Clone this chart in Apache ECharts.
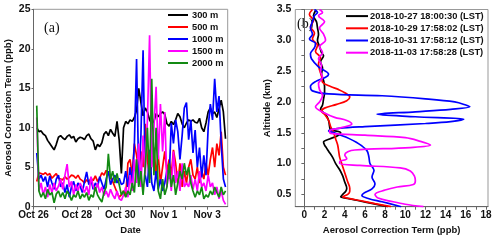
<!DOCTYPE html>
<html><head><meta charset="utf-8">
<script src="https://cdn.jsdelivr.net/npm/echarts@6/dist/echarts.min.js"></script>
<style>html,body{margin:0;padding:0;background:#fff}#c{width:500px;height:241px}</style>
</head><body><div id="c"></div>
<script>
// ---------- Panel (a): time series ----------
const dateTickDays = [0, 2, 4, 6, 8];
const dateTickLabels = ['Oct 26', 'Oct 28', 'Oct 30', 'Nov 1', 'Nov 3'];
const dayTicks = [0, 1, 2, 3, 4, 5, 6, 7, 8];
const concTicks = [0, 5, 10, 15, 20, 25];
const firstSampleDay = 0.15;   // days after Oct 26 00:00
const sampleStepDays = 0.1;
const seriesNamesA = ['300 m', '500 m', '1000 m', '1500 m', '2000 m'];

const conc300 = [10.0,9.5,9.6,9.2,9.0,8.4,8.0,7.6,7.2,7.9, 8.8,9.0,8.7,8.5,8.9,9.1,8.7,8.9,8.2,8.6, 8.8,8.7,8.5,9.0,9.2,8.6,8.3,7.2,7.9,7.6, 8.1,9.2,9.5,9.0,9.8,9.3,8.9,10.8,8.4,4.2, 10.0,10.8,10.5,11.0,10.8,11.3,12.2,15.0,13.2,11.5, 12.5,12.0,11.0,10.5,10.8,11.8,11.4,11.8,12.0,11.7, 10.5,10.2,10.8,10.4,11.0,11.8,11.4,10.5,10.0,10.6, 11.0,10.8,11.0,10.7,10.6,11.2,10.0,9.5,10.6,12.0, 12.5,11.8,12.0,11.3,12.4,13.5,12.0,8.6];
const conc500 = [3.2,4.3,4.2,4.1,4.3,4.0,4.2,3.6,3.9,4.2, 3.6,3.5,3.4,3.8,3.5,3.7,4.0,3.9,3.6,4.0, 3.5,3.3,3.0,3.4,3.1,3.6,3.3,3.9,3.2,3.6, 4.3,4.0,4.6,4.2,3.8,3.2,2.5,1.8,1.2,1.5, 2.0,1.3,5.5,6.0,4.0,8.0,6.5,4.5,7.0,5.0, 10.5,6.0,3.5,5.5,7.5,4.0,6.5,3.0,5.0,7.0, 4.5,6.0,4.0,7.2,5.5,3.0,5.5,2.5,4.5,3.0, 5.0,6.0,4.0,3.5,5.0,3.0,4.5,3.5,5.5,4.0, 6.0,7.5,5.0,8.0,6.5,9.5,5.0,4.0];
const conc1000 = [6.8,3.5,4.0,3.2,3.8,2.5,3.9,3.0,2.2,3.5, 4.0,2.5,3.0,1.8,2.8,1.2,2.5,3.2,2.0,3.0, 2.6,1.8,3.2,4.4,2.8,3.5,2.2,3.0,2.5,3.8, 3.0,2.2,3.5,4.5,2.8,3.5,4.0,3.0,3.6,2.8, 3.0,4.5,2.5,5.0,3.0,8.0,18.7,3.5,9.0,19.8, 4.0,2.5,7.2,3.0,2.0,4.5,2.2,3.5,2.0,3.0, 4.6,3.5,10.6,8.0,11.0,9.5,6.0,9.0,12.5,13.2, 8.5,11.0,6.8,9.7,5.0,7.5,3.7,6.5,4.0,10.0, 13.0,11.0,16.2,12.0,14.0,8.0,3.5,2.5];
const conc1500 = [11.3,2.0,3.0,1.5,2.5,1.2,2.8,1.8,3.0,2.0, 2.6,3.5,2.2,4.0,5.4,2.5,3.2,1.5,2.8,2.0, 3.0,2.4,1.8,2.6,1.5,3.8,2.6,2.0,3.0,1.8, 2.5,1.4,2.0,1.2,2.2,1.5,1.0,2.0,1.0,0.8, 1.5,2.5,1.2,4.0,2.0,6.0,3.0,8.0,2.5,9.0, 4.0,11.0,21.7,5.0,10.0,15.2,6.0,13.0,7.0,12.0, 2.5,5.0,2.0,7.0,3.0,4.5,2.0,5.5,2.5,3.0, 2.5,4.0,2.2,3.5,2.0,4.5,2.5,3.0,2.0,4.0, 2.5,3.0,1.5,2.5,1.0,2.0,0.8,0.3];
const conc2000 = [12.8,2.0,1.2,1.8,1.0,2.2,1.5,1.8,0.5,1.6, 2.0,1.2,1.8,1.0,2.0,1.5,0.8,1.5,1.2,2.0, 1.0,1.6,1.2,1.8,0.8,1.5,1.2,2.5,1.5,1.0, 0.6,1.8,2.5,6.7,3.5,4.5,3.0,4.2,2.8,1.5, 2.0,1.2,2.0,1.5,3.0,1.8,6.0,2.5,4.5,1.5, 5.0,10.0,3.0,16.2,4.0,10.0,2.0,1.0,3.5,1.5, 2.5,5.5,2.5,4.0,1.5,3.0,4.5,3.5,5.5,4.0, 5.0,3.0,2.0,1.2,2.0,1.5,2.5,1.0,1.5,1.2, 2.0,1.5,2.5,1.8,1.2,2.5,1.5,2.0];

// ---------- Panel (b): vertical profiles ----------
const profNames = ['2018-10-27 18:00:30 (LST)', '2018-10-29 17:58:02 (LST)', '2018-10-31 17:58:12 (LST)', '2018-11-03 17:58:28 (LST)'];
const corrTickLabels = [0, 2, 4, 6, 8, 10, 12, 14, 16, 18];
const corrTicks = [0,1,2,3,4,5,6,7,8,9,10,11,12,13,14,15,16,17,18];
const altTickLabels = [0.5, 1.0, 1.5, 2.0, 2.5, 3.0, 3.5];
const altTicks = [0.5, 0.75, 1.0, 1.25, 1.5, 1.75, 2.0, 2.25, 2.5, 2.75, 3.0, 3.25, 3.5];

const alt1027 = [3.48,3.4,3.3,3.2,3.1,3.0,2.9,2.8,2.75,2.65,2.55,2.45,2.35,2.25,2.15,2.05,1.95,1.88,1.8,1.7,1.6,1.55,1.5,1.45,1.4,1.35,1.3,1.25,1.2,1.1,1.0,0.9,0.8,0.7,0.6,0.55,0.5,0.46,0.43,0.4,0.35,0.3];
const val1027 = [1.1,0.9,1.2,1.3,1.4,1.3,1.5,1.7,1.9,1.6,1.8,1.7,1.9,2.0,2.0,1.9,1.8,1.6,2.1,2.4,2.5,2.6,3.6,3.3,2.5,1.9,2.0,2.2,2.4,2.8,3.1,3.5,3.8,4.0,4.2,4.1,3.8,3.6,4.4,5.3,6.8,8.3];
const alt1029 = [3.5,3.42,3.32,3.22,3.12,3.02,2.92,2.82,2.72,2.62,2.52,2.42,2.32,2.25,2.2,2.15,2.08,2.02,1.96,1.9,1.85,1.8,1.7,1.6,1.5,1.4,1.3,1.2,1.1,1.0,0.9,0.8,0.7,0.6,0.55,0.5,0.46,0.43,0.4,0.35,0.3];
const val1029 = [0.8,0.5,0.9,0.6,1.0,0.8,1.3,1.1,1.6,1.4,1.5,1.7,1.8,2.6,3.4,4.0,4.5,4.2,3.2,2.0,1.7,2.0,2.4,2.6,2.9,3.1,3.3,3.4,3.5,3.7,3.9,4.1,4.3,4.5,4.5,4.3,3.8,4.5,5.5,7.0,8.6];
const alt1031 = [3.5,3.45,3.4,3.3,3.2,3.1,3.02,2.95,2.88,2.78,2.7,2.57,2.45,2.4,2.33,2.25,2.18,2.13,2.1,2.05,2.0,1.95,1.92,1.88,1.84,1.8,1.76,1.72,1.68,1.65,1.6,1.57,1.53,1.49,1.43,1.32,1.21,1.1,1.0,0.89,0.78,0.67,0.59,0.52,0.48,0.43,0.38,0.3];
const val1031 = [1.0,1.3,1.0,0.8,0.6,0.8,0.5,1.1,1.0,0.6,0.7,1.4,2.4,2.1,1.1,0.6,0.8,2.4,7.7,12.0,14.9,16.0,16.4,14.5,11.0,7.2,11.0,15.8,14.5,12.0,6.0,3.4,2.4,3.1,4.1,5.4,6.2,6.4,6.5,6.9,6.7,7.0,6.7,5.9,5.7,6.4,7.7,9.6];
const alt1103 = [3.5,3.45,3.4,3.3,3.2,3.1,3.0,2.9,2.8,2.7,2.6,2.5,2.4,2.3,2.2,2.1,2.0,1.92,1.82,1.75,1.7,1.64,1.58,1.53,1.49,1.46,1.42,1.36,1.3,1.26,1.22,1.19,1.14,1.08,1.03,1.0,0.97,0.93,0.88,0.8,0.72,0.66,0.62,0.57,0.5,0.44,0.38,0.34,0.3];
const val1103 = [1.5,1.8,1.4,2.0,1.5,1.9,2.1,1.5,1.8,1.4,1.7,1.6,1.8,1.4,1.5,1.8,1.5,1.1,2.0,3.0,4.2,4.7,3.6,2.5,2.6,6.0,10.0,11.5,12.5,10.5,5.0,4.3,4.0,4.2,3.5,3.5,5.5,9.5,10.5,10.9,11.0,10.8,9.2,8.0,7.0,7.3,8.8,10.0,11.8];

const colorsA = ['#000000', '#ff0000', '#0000ff', '#ff00ff', '#138a13'];
const colorsB = ['#000000', '#ff0000', '#0000ff', '#ff00ff'];

const FONT = 'Liberation Sans';
const labX = {fontFamily: FONT, fontWeight: 'bold', color: '#111', fontSize: 10};
const labY = {fontFamily: FONT, fontWeight: 'bold', color: '#111', fontSize: 10.5};

const seriesA = [conc300, conc500, conc1000, conc1500, conc2000].map((arr, k) => ({
  name: seriesNamesA[k], type: 'line', xAxisIndex: 0, yAxisIndex: 0,
  showSymbol: false, symbol: 'none', animation: false,
  lineStyle: {width: 1.7, color: colorsA[k]}, itemStyle: {color: colorsA[k]},
  data: arr.map((v, i) => [firstSampleDay + i * sampleStepDays, v])
}));
const profAlts = [alt1027, alt1029, alt1031, alt1103];
const profVals = [val1027, val1029, val1031, val1103];
const seriesB = profVals.map((vals, k) => ({
  name: profNames[k], type: 'line', xAxisIndex: 1, yAxisIndex: 1,
  showSymbol: false, symbol: 'none', animation: false, smooth: 0.35,
  lineStyle: {width: 1.7, color: colorsB[k]}, itemStyle: {color: colorsB[k]},
  data: vals.map((v, i) => [v, profAlts[k][i]])
}));

const axisCommon = {
  axisLine: {show: true, lineStyle: {color: '#666', width: 1}},
  splitLine: {show: false},
  nameTextStyle: {fontFamily: FONT, fontWeight: 'bold', fontSize: 9.5, color: '#111'}
};

const chart = echarts.init(document.getElementById('c'), null, {renderer: 'canvas'});
chart.setOption({
  animation: false,
  backgroundColor: '#fff',
  grid: [
    {left: 33.5, top: 9.3, width: 194.2, height: 197.4, show: true, borderColor: '#999', borderWidth: 1, backgroundColor: 'transparent'},
    {left: 295.3, top: 9.5, width: 192.7, height: 197.2, show: true, borderColor: '#999', borderWidth: 1, backgroundColor: 'transparent'}
  ],
  xAxis: [
    Object.assign({}, axisCommon, {
      type: 'value', gridIndex: 0, min: 0, max: 8.95,
      name: 'Date', nameLocation: 'middle', nameGap: 18,
      axisTick: {show: true, inside: false, length: 3, customValues: dayTicks, lineStyle: {color: '#666'}},
      axisLabel: Object.assign({}, labX, {margin: 4, customValues: dateTickDays,
        formatter: v => dateTickLabels[dateTickDays.indexOf(Math.round(v))] || ''})
    }),
    Object.assign({}, axisCommon, {
      type: 'value', gridIndex: 1, min: -0.9, max: 18.2,
      name: 'Aerosol Correction Term (ppb)', nameLocation: 'middle', nameGap: 18,
      axisTick: {show: true, inside: false, length: 3, customValues: corrTicks, lineStyle: {color: '#666'}},
      axisLabel: Object.assign({}, labX, {margin: 4, customValues: corrTickLabels, formatter: v => String(Math.round(v))})
    })
  ],
  yAxis: [
    Object.assign({}, axisCommon, {
      type: 'value', gridIndex: 0, min: 0, max: 25,
      name: 'Aerosol Correction Term (ppb)', nameLocation: 'middle', nameGap: 20,
      axisTick: {show: true, inside: false, length: 2, customValues: concTicks, lineStyle: {color: '#666'}},
      axisLabel: Object.assign({}, labY, {margin: 3, customValues: concTicks, formatter: v => String(Math.round(v))})
    }),
    Object.assign({}, axisCommon, {
      type: 'value', gridIndex: 1, min: 0.3, max: 3.5,
      name: 'Altitude (km)', nameLocation: 'middle', nameGap: 20,
      axisTick: {show: true, inside: false, length: 3, customValues: altTicks, lineStyle: {color: '#666'}},
      axisLabel: Object.assign({}, labY, {margin: 4, customValues: altTickLabels, formatter: v => v.toFixed(1)})
    })
  ],
  legend: [
    {data: seriesNamesA, orient: 'vertical', left: 168, top: 9, itemWidth: 20, itemHeight: 2, itemGap: 0,
     icon: 'rect', textStyle: {fontFamily: FONT, fontWeight: 'bold', fontSize: 9.3, color: '#111', lineHeight: 12, padding: [0, 0, 0, -1]},
     padding: 0, selectedMode: false},
    {data: profNames, orient: 'vertical', left: 346, top: 10, itemWidth: 22, itemHeight: 2, itemGap: 0,
     icon: 'rect', textStyle: {fontFamily: FONT, fontWeight: 'bold', fontSize: 9.3, color: '#111', lineHeight: 12.2, padding: [0, 0, 0, -3]},
     padding: 0, selectedMode: false}
  ],
  graphic: [
    {type: 'text', left: 44, top: 21, style: {text: '(a)', font: '14px "Liberation Serif"', fill: '#111'}},
    {type: 'text', left: 297, top: 17, style: {text: '(b)', font: '14px "Liberation Serif"', fill: '#111'}}
  ],
  series: seriesA.concat(seriesB)
});
</script></body></html>
